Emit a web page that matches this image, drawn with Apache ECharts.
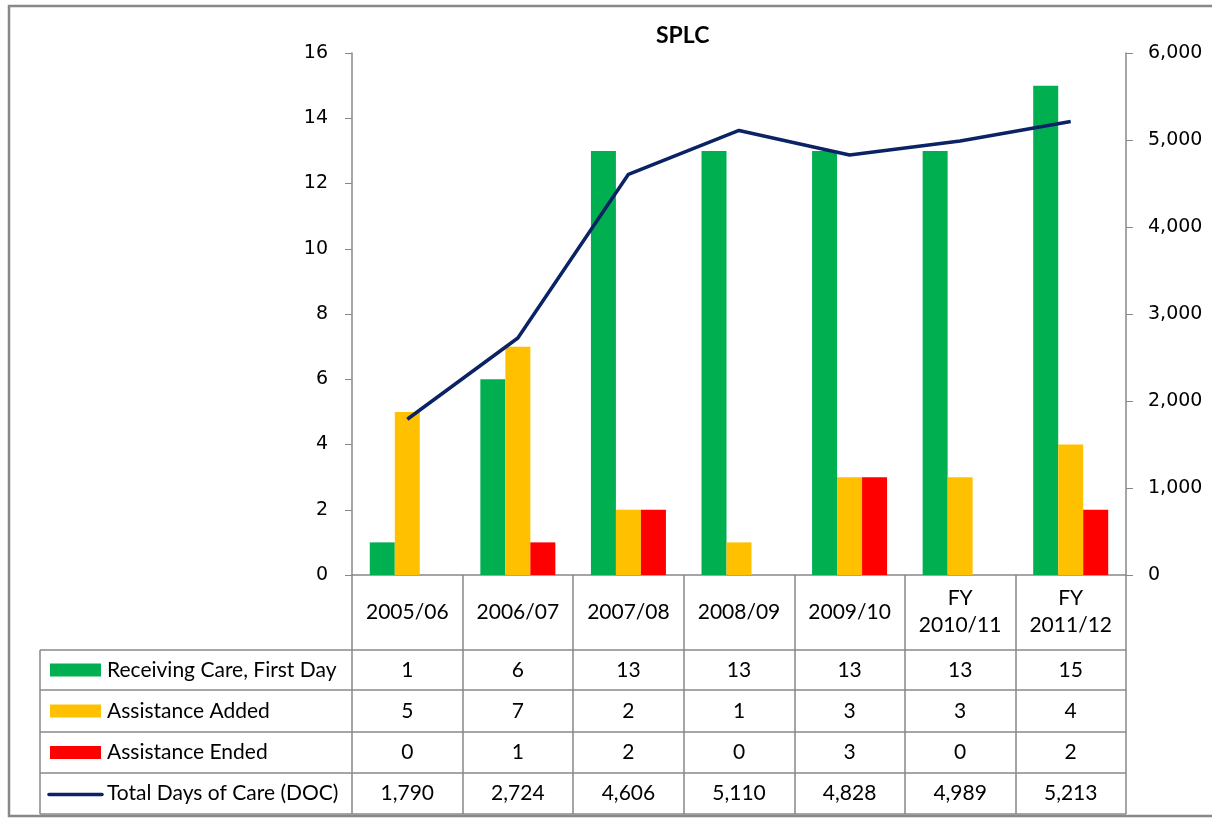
<!DOCTYPE html>
<html>
<head>
<meta charset="utf-8">
<title>SPLC</title>
<script src="https://cdn.jsdelivr.net/npm/echarts@6/dist/echarts.min.js"></script>
<style>
  html, body { margin: 0; padding: 0; background: #fff; }
  #chart { width: 1212px; height: 819px; }
</style>
</head>
<body>
<div id="chart"></div>
<script>
// data
const years = ['2005/06', '2006/07', '2007/08', '2008/09', '2009/10', 'FY\n2010/11', 'FY\n2011/12'];
const receivingCare = [1, 6, 13, 13, 13, 13, 15];
const assistanceAdded = [5, 7, 2, 1, 3, 3, 4];
const assistanceEnded = [0, 1, 2, 0, 3, 0, 2];
const totalDays = [1790, 2724, 4606, 5110, 4828, 4989, 5213];
const rowNames = ['Receiving Care, First Day', 'Assistance Added', 'Assistance Ended', 'Total Days of Care (DOC)'];

const GREEN = '#00B050', YELLOW = '#FFC000', RED = '#FF0000', NAVY = '#0B2365';
const GRAY = '#888888';
const tableFont = 'Lato, "Open Sans", sans-serif';
const axisFont = '"DejaVu Sans", sans-serif';

// table layout (px)
const plotBottom = 575;
const rowLines = [650, 690, 732, 773, 814];
const tableLeft = 40, tableRight = 1126, plotLeft = 352;

const fmt = v => v.toLocaleString('en-US');
const rows = [receivingCare, assistanceAdded, assistanceEnded, totalDays.map(fmt)];

// one hidden category axis per table row, just to place the values
const rowAxes = rows.map((vals, r) => ({
  type: 'category',
  data: years,
  position: 'bottom',
  axisLine: { show: false },
  axisTick: { show: false },
  axisLabel: {
    interval: 0,
    margin: (rowLines[r] + rowLines[r + 1]) / 2 - plotBottom,
    verticalAlign: 'middle',
    fontFamily: tableFont,
    fontSize: 21,
    color: '#000',
    formatter: (v, i) => String(vals[i])
  }
}));

const graphics = [];
// outer frame
graphics.push({
  type: 'rect', shape: { x: 9, y: 6, width: 1212, height: 810 },
  style: { fill: 'none', stroke: GRAY, lineWidth: 2.5 }, silent: true
});
// table horizontal lines
rowLines.forEach(y => graphics.push({
  type: 'line', shape: { x1: tableLeft, y1: y, x2: tableRight, y2: y },
  style: { stroke: GRAY, lineWidth: 1.5 }, silent: true
}));
graphics.push({
  type: 'line', shape: { x1: tableLeft, y1: rowLines[0], x2: tableLeft, y2: rowLines[4] },
  style: { stroke: GRAY, lineWidth: 1.5 }, silent: true
});
// legend keys + row names
const keyColors = [GREEN, YELLOW, RED, NAVY];
rowNames.forEach((name, r) => {
  const cy = (rowLines[r] + rowLines[r + 1]) / 2;
  if (r < 3) {
    graphics.push({
      type: 'rect', shape: { x: 50, y: cy - 6.5, width: 51, height: 13 },
      style: { fill: keyColors[r] }, silent: true
    });
  } else {
    graphics.push({
      type: 'line', shape: { x1: 49, y1: cy + 1, x2: 102, y2: cy + 1 },
      style: { stroke: NAVY, lineWidth: 3.5, lineCap: 'round' }, silent: true
    });
  }
  graphics.push({
    type: 'text', x: 107, y: cy,
    style: { text: name, fill: '#000', font: '21px ' + tableFont, textVerticalAlign: 'middle' },
    silent: true
  });
});

const chart = echarts.init(document.getElementById('chart'));
chart.setOption({
  animation: false,
  title: {
    text: 'SPLC', left: 651, top: 19,
    textStyle: { fontFamily: tableFont, fontSize: 23, fontWeight: 'bold', color: '#000' }
  },
  grid: { left: plotLeft, right: 1212 - tableRight, top: 53, bottom: 819 - plotBottom },
  xAxis: [{
    type: 'category',
    data: years,
    axisLine: { lineStyle: { color: GRAY, width: 1.5 } },
    axisTick: { show: true, alignWithLabel: false, length: rowLines[4] - plotBottom, lineStyle: { color: GRAY, width: 1.5 } },
    axisLabel: {
      interval: 0, margin: 37, verticalAlign: 'middle',
      fontFamily: tableFont, fontSize: 21, lineHeight: 27, color: '#000'
    }
  }].concat(rowAxes),
  yAxis: [{
    type: 'value', min: 0, max: 16, interval: 2,
    axisLine: { show: true, lineStyle: { color: GRAY, width: 1.5 } },
    axisTick: { show: true, length: 7, lineStyle: { color: GRAY } },
    splitLine: { show: false },
    axisLabel: { margin: 24, fontFamily: axisFont, fontSize: 19, color: '#000' }
  }, {
    type: 'value', min: 0, max: 6000, interval: 1000,
    axisLine: { show: true, lineStyle: { color: GRAY, width: 1.5 } },
    axisTick: { show: true, length: 7, lineStyle: { color: GRAY } },
    splitLine: { show: false },
    axisLabel: { margin: 22, fontFamily: axisFont, fontSize: 19, color: '#000', formatter: v => fmt(v) }
  }],
  series: [
    { name: rowNames[0], type: 'bar', data: receivingCare, barWidth: 25, barGap: '0%', itemStyle: { color: GREEN } },
    { name: rowNames[1], type: 'bar', data: assistanceAdded, barWidth: 25, barGap: '0%', itemStyle: { color: YELLOW } },
    { name: rowNames[2], type: 'bar', data: assistanceEnded, barWidth: 25, barGap: '0%', itemStyle: { color: RED } },
    {
      name: rowNames[3], type: 'line', yAxisIndex: 1, data: totalDays,
      showSymbol: false, lineStyle: { color: NAVY, width: 3.5 }, itemStyle: { color: NAVY }
    }
  ],
  graphic: graphics
});
</script>
</body>
</html>
